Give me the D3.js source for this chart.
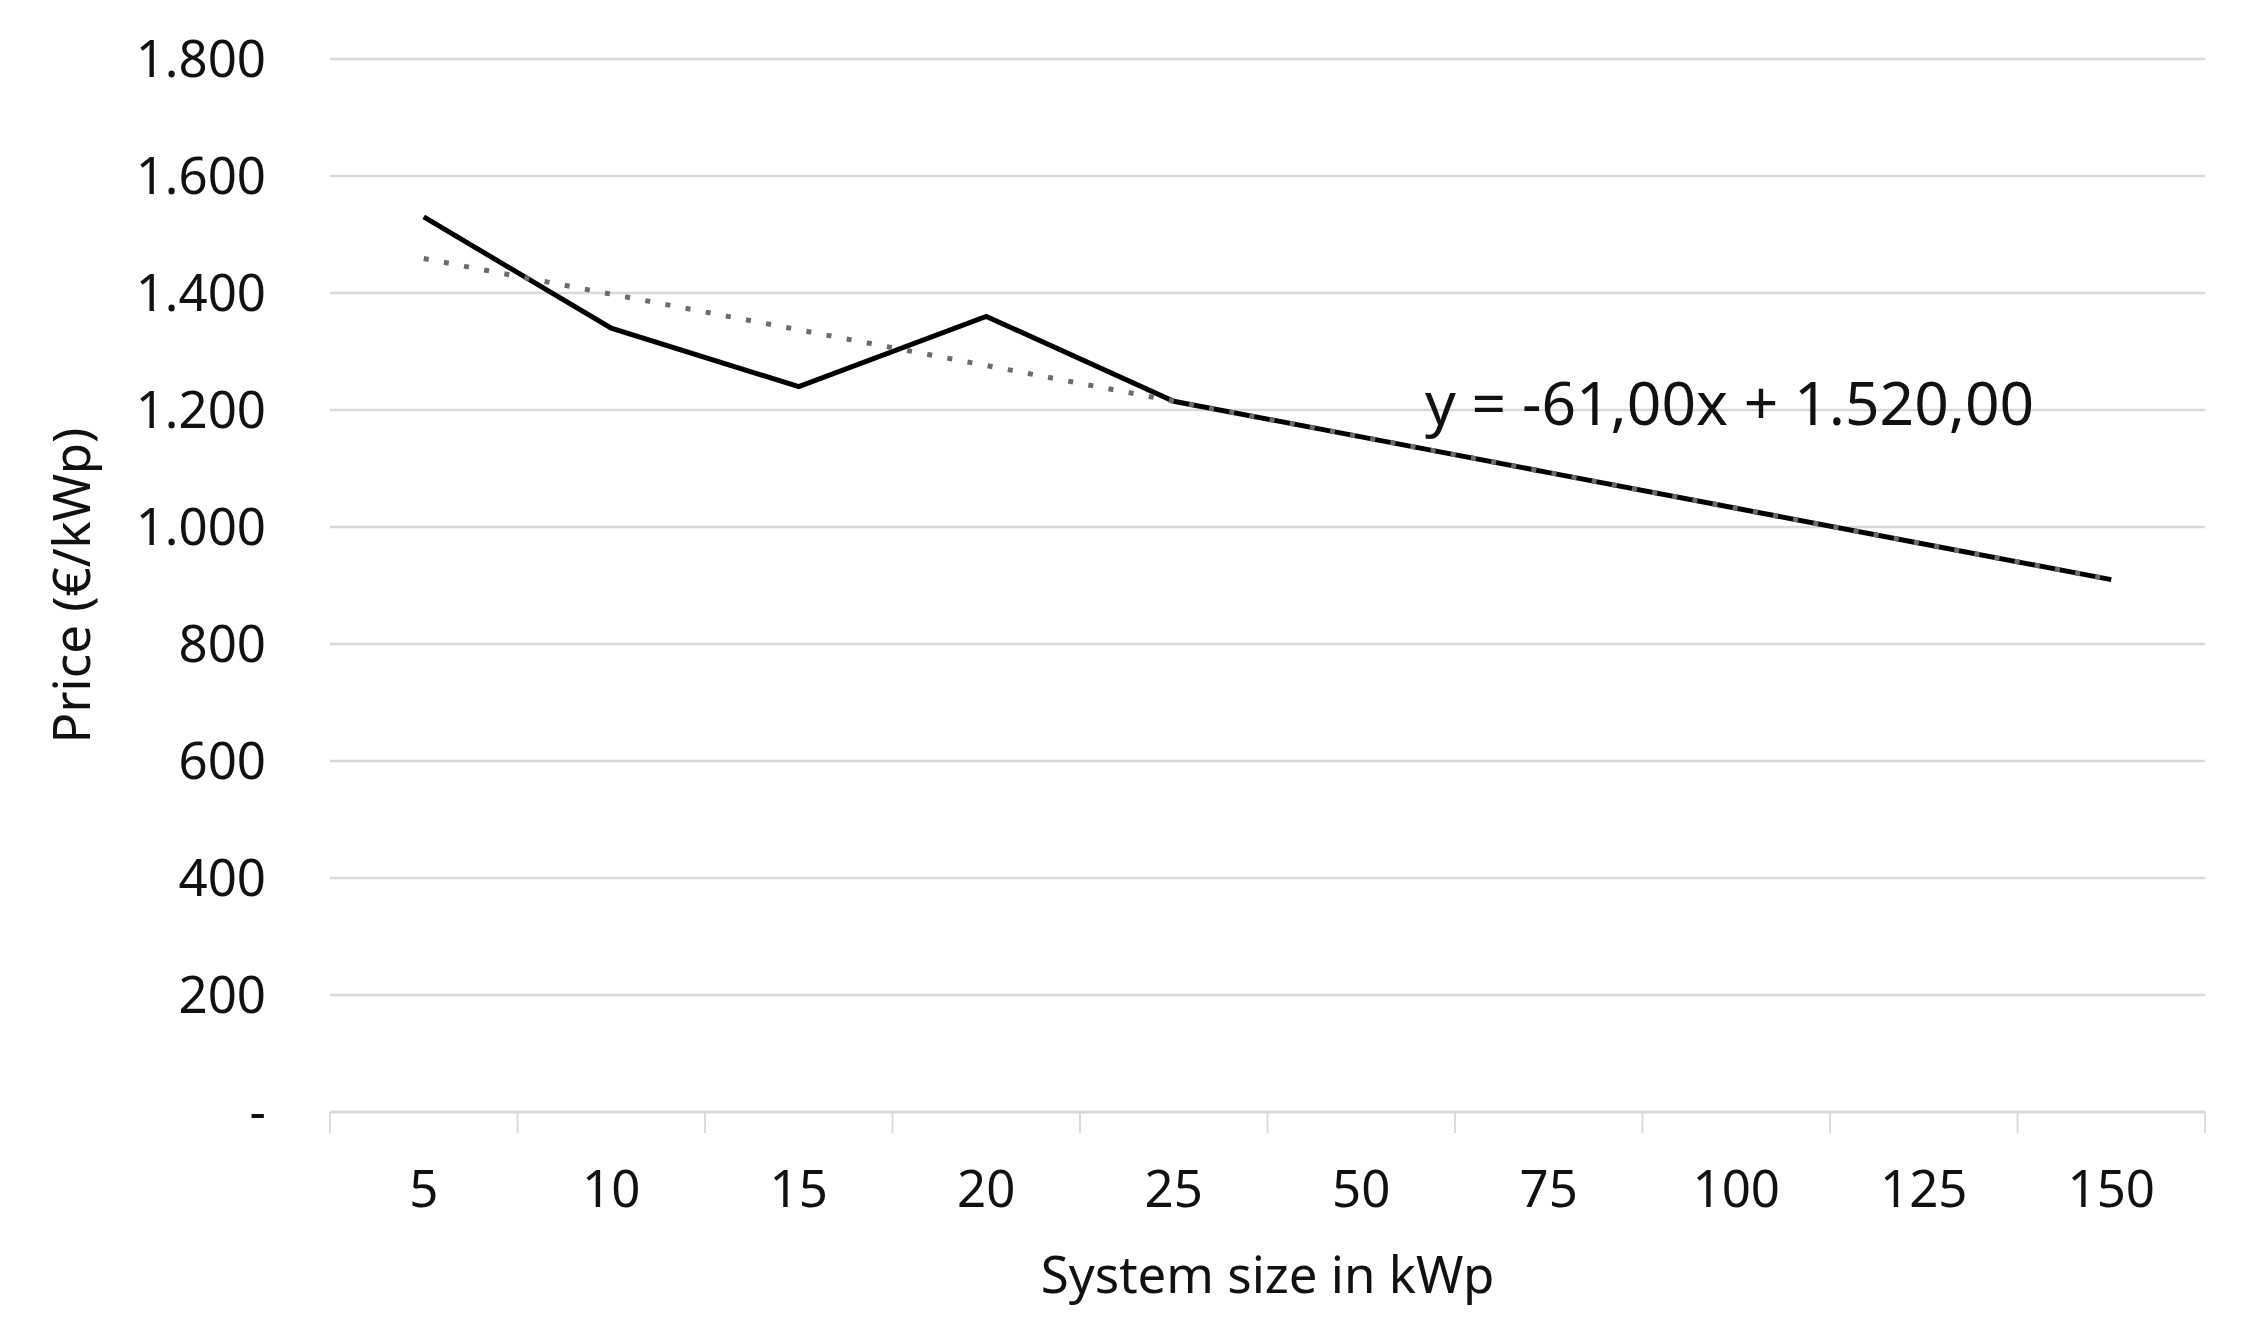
<!DOCTYPE html>
<html>
<head>
<meta charset="utf-8">
<script src="https://cdn.jsdelivr.net/npm/d3@7"></script>
<style>
  html, body { margin: 0; padding: 0; background: #fff; }
  text { font-family: "Noto Sans", "Open Sans", sans-serif; fill: #111; }
</style>
</head>
<body>
<div id="chart"></div>
<script>
// data
const sizes = ["5", "10", "15", "20", "25", "50", "75", "100", "125", "150"];
const prices = [1530, 1340, 1240, 1360, 1215, 1154, 1093, 1032, 971, 910];
const yTicks = [0, 200, 400, 600, 800, 1000, 1200, 1400, 1600, 1800];

const width = 2248, height = 1330;
const margin = { top: 59, right: 43, bottom: 218, left: 330 };
const innerW = width - margin.left - margin.right;
const innerH = height - margin.top - margin.bottom;

// german number format: 1.520,00 (plain hyphen for minus)
const de = d3.formatLocale({ decimal: ",", thousands: ".", grouping: [3], currency: ["", " €"], minus: "-" });
const fmtInt = de.format(",.0f");
const fmt2 = de.format(",.2f");

const svg = d3.select("#chart")
    .append("svg")
    .attr("width", width)
    .attr("height", height);

const g = svg.append("g")
    .attr("transform", `translate(${margin.left},${margin.top})`);

const x = d3.scaleBand().domain(sizes).range([0, innerW]);
const y = d3.scaleLinear().domain([0, 1800]).range([innerH, 0]);

// gridlines
g.selectAll("line.grid")
    .data(yTicks.filter(d => d > 0))
    .enter().append("line")
    .attr("class", "grid")
    .attr("x1", 0).attr("x2", innerW)
    .attr("y1", d => y(d)).attr("y2", d => y(d))
    .attr("stroke", "#d9d9d9")
    .attr("stroke-width", 2.5);

// y labels
g.selectAll("text.ylab")
    .data(yTicks)
    .enter().append("text")
    .attr("class", "ylab")
    .attr("x", -64)
    .attr("y", d => y(d))
    .attr("dy", "0.36em")
    .attr("text-anchor", "end")
    .style("font-size", "51px")
    .text(d => d === 0 ? "-" : fmtInt(d));

// x axis
const xAxis = g.append("g")
    .attr("transform", `translate(0,${innerH})`);

xAxis.append("line")
    .attr("x1", 0).attr("x2", innerW)
    .attr("stroke", "#d9d9d9")
    .attr("stroke-width", 3);

const bounds = sizes.map(d => x(d)).concat([innerW]);
xAxis.selectAll("line.tick")
    .data(bounds)
    .enter().append("line")
    .attr("class", "tick")
    .attr("x1", d => d).attr("x2", d => d)
    .attr("y1", 0).attr("y2", 21)
    .attr("stroke", "#d9d9d9")
    .attr("stroke-width", 1.8);

xAxis.selectAll("text")
    .data(sizes)
    .enter().append("text")
    .attr("x", d => x(d) + x.bandwidth() / 2)
    .attr("y", 95)
    .attr("text-anchor", "middle")
    .style("font-size", "51px")
    .text(d => d);

// axis titles
g.append("text")
    .attr("x", innerW / 2)
    .attr("y", innerH + 181)
    .attr("text-anchor", "middle")
    .style("font-size", "51px")
    .text("System size in kWp");

svg.append("text")
    .attr("transform", `translate(90,${margin.top + innerH / 2}) rotate(-90)`)
    .attr("text-anchor", "middle")
    .style("font-size", "51px")
    .text("Price (€/kWp)");

// linear trend (least squares on category index 1..n)
const n = prices.length;
const idx = d3.range(1, n + 1);
const mx = d3.mean(idx), my = d3.mean(prices);
const slope = d3.sum(idx, (k, i) => (k - mx) * (prices[i] - my)) / d3.sum(idx, k => (k - mx) * (k - mx));
const intercept = my - slope * mx;

const cx = (d, i) => x(sizes[i]) + x.bandwidth() / 2;

// price line
const line = d3.line()
    .x((d, i) => cx(d, i))
    .y(d => y(d));

g.append("path")
    .datum(prices)
    .attr("d", line)
    .attr("fill", "none")
    .attr("stroke", "#000")
    .attr("stroke-width", 5)
    .attr("stroke-linejoin", "miter");

// trendline drawn on top, like excel
const trendLine = d3.line()
    .x((d, i) => cx(d, i))
    .y(d => y(intercept + slope * d));

g.append("path")
    .datum(idx)
    .attr("d", trendLine)
    .attr("fill", "none")
    .attr("stroke", "#6b6b6b")
    .attr("stroke-width", 5)
    .attr("stroke-dasharray", "5 15.5");

// equation label
g.append("text")
    .attr("x", 1425 - margin.left)
    .attr("y", 425 - margin.top)
    .style("font-size", "60.5px")
    .text(`y = ${fmt2(slope)}x + ${fmt2(intercept)}`);
</script>
</body>
</html>
